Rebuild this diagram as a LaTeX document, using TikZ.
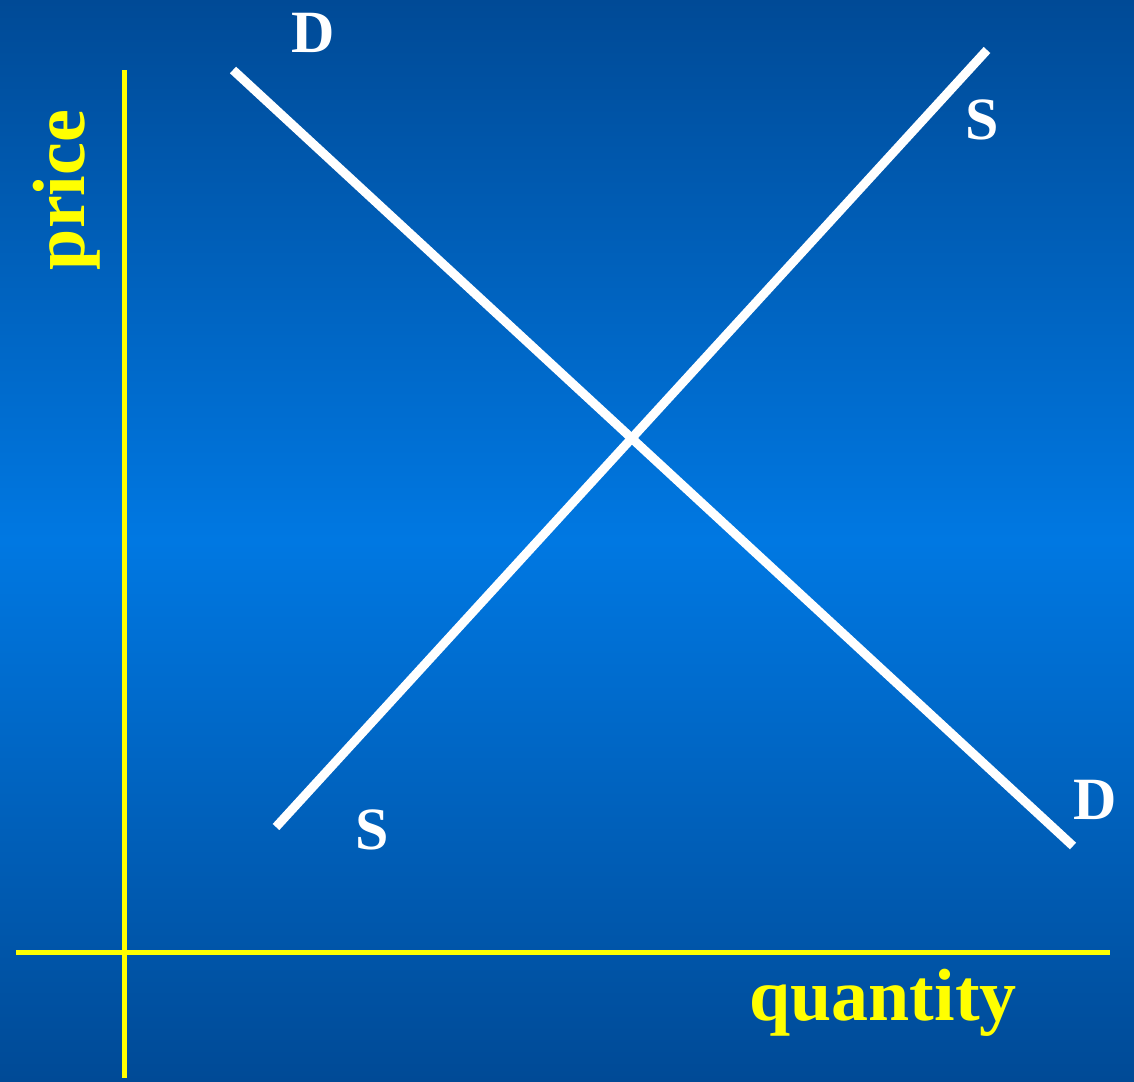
\documentclass[tikz,border=0pt]{standalone}
\usepackage{fontspec}
\setmainfont{Liberation Serif}
\definecolor{bgedge}{HTML}{004A96}
\definecolor{bgmid}{HTML}{0078E2}
\definecolor{axisyellow}{HTML}{FFFF00}
\begin{document}
\begin{tikzpicture}[x=1pt,y=-1pt,
  axis/.style={draw=axisyellow,line width=5pt},
  curve/.style={draw=white,line width=9pt},
  curvelabel/.style={text=white,font=\fontsize{60}{60}\selectfont\bfseries,inner sep=0pt},
  axislabel/.style={text=axisyellow,font=\fontsize{74}{74}\selectfont\bfseries,inner sep=0pt}]
\shade[top color=bgedge,bottom color=bgedge,middle color=bgmid] (0,0) rectangle (1134,1081);
\useasboundingbox (0,0) rectangle (1134,1081);
% axes
\coordinate (yt) at (124,70);
\coordinate (yb) at (124,1078);
\coordinate (xl) at (16,952);
\coordinate (xr) at (1110,952);
\draw[axis] (yt) -- (yb);
\draw[axis] (xl) -- (xr);
% demand and supply
\coordinate (d1) at (233,70);
\coordinate (d2) at (1073,846);
\coordinate (s1) at (276,827);
\coordinate (s2) at (987,50);
\draw[curve] (d1) -- (d2);
\draw[curve] (s1) -- (s2);
% labels
\node[curvelabel] (dtop) at (313,33) {D};
\node[curvelabel] (stop) at (982,120) {S};
\node[curvelabel] (sbot) at (372,830) {S};
\node[curvelabel] (dbot) at (1095,800) {D};
\node[axislabel,rotate=90,anchor=base] (price) at (84,190) {price};
\node[axislabel,anchor=base] (qty) at (883,1020) {quantity};
\end{tikzpicture}
\end{document}
